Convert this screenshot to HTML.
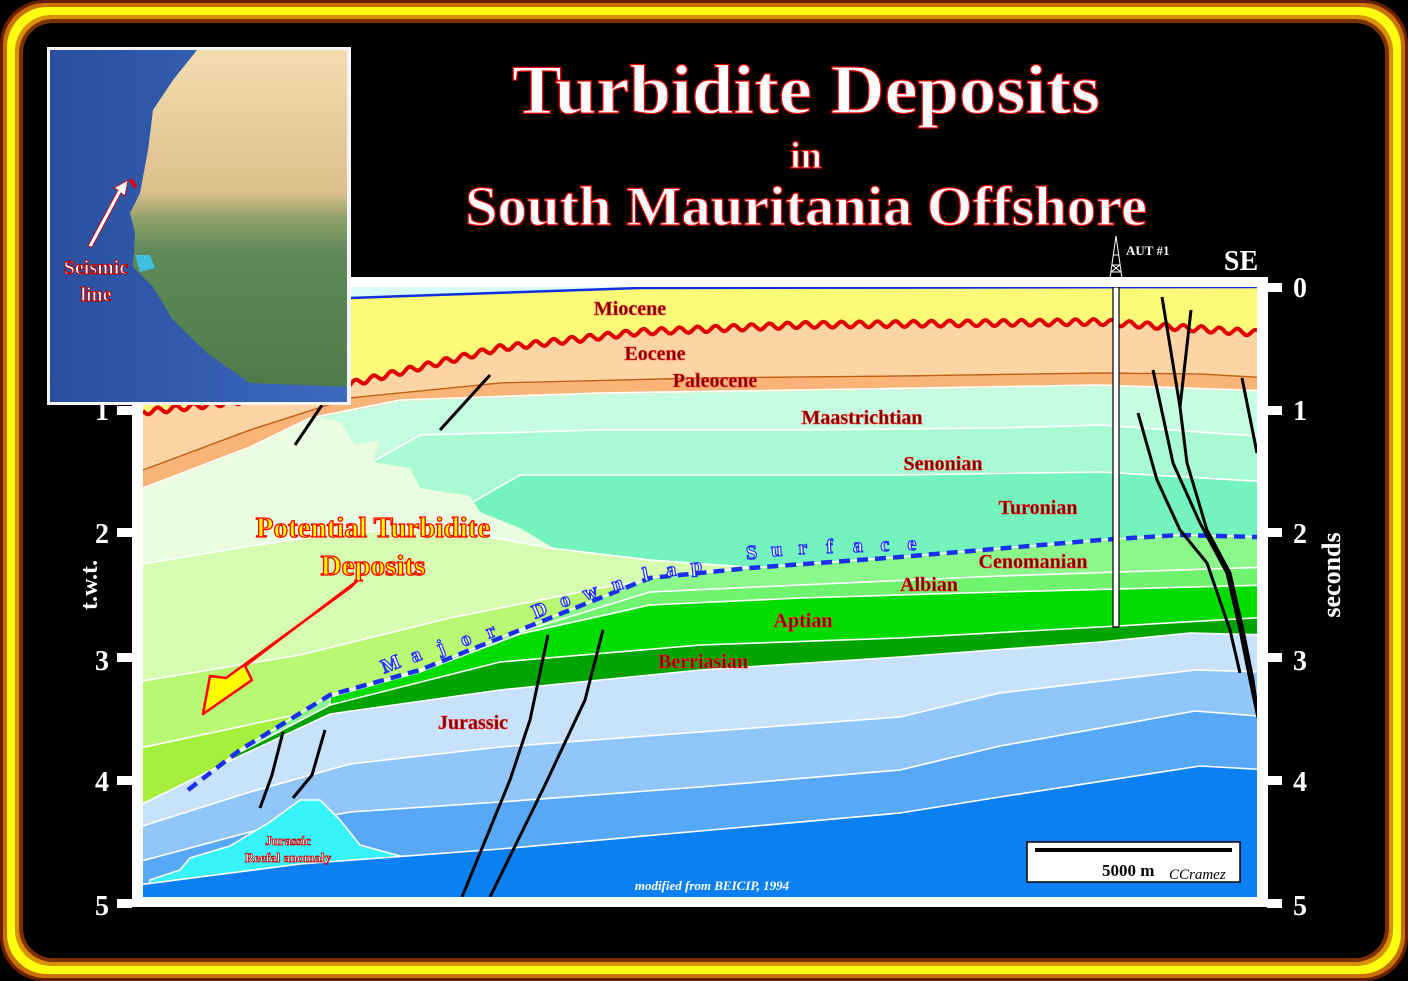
<!DOCTYPE html>
<html><head><meta charset="utf-8"><style>
html,body{margin:0;padding:0;background:#000;}
#w{position:relative;width:1408px;height:981px;overflow:hidden;background:#000;}
.f{position:absolute;}
</style></head><body><div id="w">
<div class="f" style="left:0;top:0;width:1408px;height:981px;border-radius:44px;background:#6a2000;"></div>
<div class="f" style="left:3px;top:3px;width:1402px;height:975px;border-radius:42px;background:#c87000;"></div>
<div class="f" style="left:7px;top:7px;width:1394px;height:967px;border-radius:40px;background:#ffff10;"></div>
<div class="f" style="left:15px;top:15px;width:1378px;height:951px;border-radius:36px;background:#d89000;"></div>
<div class="f" style="left:19px;top:19px;width:1370px;height:943px;border-radius:34px;background:#7a3000;"></div>
<div class="f" style="left:23px;top:23px;width:1362px;height:935px;border-radius:30px;background:#000;"></div>
<svg class="f" style="left:0;top:0" width="1408" height="981" viewBox="0 0 1408 981" font-family="Liberation Serif, serif">
<defs>
<clipPath id="sec"><rect x="143" y="287" width="1114" height="610"/></clipPath>
<linearGradient id="land" x1="0" y1="0" x2="0" y2="1">
<stop offset="0" stop-color="#f2dcae"/><stop offset="0.42" stop-color="#dcc08c"/><stop offset="0.5" stop-color="#8fa06a"/><stop offset="0.6" stop-color="#5f8a58"/><stop offset="1" stop-color="#4f7b4a"/></linearGradient>
<linearGradient id="sea" x1="0" y1="0" x2="1" y2="0"><stop offset="0" stop-color="#2a4f9e"/><stop offset="1" stop-color="#3d6ac0"/></linearGradient>
</defs>
<rect x="132" y="277" width="1136" height="630" fill="#fff"/>
<g fill="#fff">
<rect x="1267" y="283" width="15" height="9"/><rect x="1267" y="406" width="15" height="9"/><rect x="1267" y="528" width="15" height="9"/><rect x="1267" y="653" width="15" height="9"/><rect x="1267" y="776" width="15" height="9"/><rect x="1267" y="899" width="15" height="9"/>
<rect x="117" y="406" width="15" height="9"/><rect x="117" y="528" width="15" height="9"/><rect x="117" y="653" width="15" height="9"/><rect x="117" y="776" width="15" height="9"/><rect x="117" y="899" width="15" height="9"/>
</g>
<g fill="#fff" font-weight="bold" font-size="28" text-anchor="middle">
<text x="1300" y="297">0</text><text x="1300" y="420">1</text><text x="1300" y="543">2</text><text x="1300" y="670">3</text><text x="1300" y="791">4</text><text x="1300" y="915">5</text>
<text x="102" y="420">1</text><text x="102" y="543">2</text><text x="102" y="670">3</text><text x="102" y="791">4</text><text x="102" y="915">5</text>
<text x="1241" y="270" font-size="28">SE</text>
<text transform="translate(97,585) rotate(-90)" font-size="24">t.w.t.</text>
<text transform="translate(1340,575) rotate(-90)" font-size="26">seconds</text>
</g>
<g clip-path="url(#sec)" stroke="#fff" stroke-width="1.6">
<rect x="130" y="280" width="1140" height="630" fill="#c6fce2" stroke="none"/>
<polygon fill="#a8fad2" points="130,600 420,435 600,430 800,430 1000,428 1100,425 1270,437 1270,910 130,910"/>
<polygon fill="#74f4bc" points="130,700 520,475 700,475 900,475 1100,472 1270,482 1270,910 130,910"/>
<polygon fill="#eafde0" points="130,492 310,415 340,422 355,445 380,440 372,462 410,468 420,488 470,496 480,512 520,528 560,552 640,560 143,566 130,566" stroke="none"/>
<polygon fill="#d6fcb2" points="130,566 250,546 350,532 450,530 550,548 650,560 760,568 760,910 130,910"/>
<polygon fill="#b8f872" points="130,683 300,655 450,618 600,588 720,570 720,910 130,910"/>
<polygon fill="#a4f03c" points="130,750 300,714 420,672 520,640 520,910 130,910"/>
<polygon fill="#8cf88c" points="130,820 188,790 240,750 330,695 420,670 520,630 650,578 750,568 900,557 1100,540 1180,535 1270,537 1270,910 130,910"/>
<polygon fill="#70f470" points="520,632 650,592 800,585 1000,576 1270,567 1270,910 520,910"/>
<polygon fill="#00dc00" points="330,697 420,672 520,634 650,605 800,598 1000,592 1270,585 1270,910 330,910"/>
<polygon fill="#00a400" points="130,830 240,752 330,705 500,662 700,645 900,638 1100,627 1270,617 1270,910 130,910"/>
<polygon fill="#c8e2fc" points="130,810 240,756 330,714 500,690 700,670 900,657 1100,642 1190,633 1270,635 1270,910 130,910"/>
<polygon fill="#90c6fa" points="130,830 250,792 350,764 500,747 700,732 900,717 1000,693 1195,670 1270,672 1270,910 130,910"/>
<polygon fill="#58a8f8" points="130,864 250,832 350,812 500,802 700,787 900,770 1000,746 1195,711 1270,717 1270,910 130,910"/>
<polygon fill="#36f4fa" points="150,880 180,870 190,858 230,846 270,822 300,800 320,800 340,820 360,845 400,856 450,858 150,890"/>
<polygon fill="#0a80f2" points="130,886 300,864 500,849 700,831 900,813 1000,797 1200,766 1270,770 1270,910 130,910"/>
<rect x="130" y="280" width="1140" height="20" fill="#d8fcfc" stroke="none"/>
<polygon fill="#fafa78" stroke="none" points="130,300 350,298 640,288 1270,287 1270,392 1100,386 800,391 600,394 400,401 310,419 250,448 130,494"/>
<polygon fill="#fdd4a4" stroke="none" points="130,414 143,412 250,400 350,384 500,348 640,332 800,325 1000,323 1100,322 1270,334 1270,392 1100,386 800,391 600,394 400,401 310,419 250,448 130,494"/>
<polygon fill="#fab478" points="130,475 143,470 250,430 350,398 500,383 700,378 900,376 1100,373 1200,374 1270,378 1270,391 1100,385 800,390 600,393 400,400 310,418 250,447 130,493"/>
<polyline fill="none" stroke="#c06010" stroke-width="1.5" points="130,475 143,470 250,430 350,398 500,383 700,378 900,376 1100,373 1200,374 1270,378"/>
<polyline fill="none" stroke="#1030e0" stroke-width="2.5" points="350,298 640,288 1257,287"/>
<path id="wave" fill="none" stroke="#e00000" stroke-width="4" d="M143,412 L1257,333"/>
<polyline fill="none" stroke="#1a30f0" stroke-width="4.5" stroke-dasharray="11,7" points="188,790 240,750 330,695 420,670 520,630 650,578 750,568 900,557 1100,540 1180,535 1257,537"/>
<g fill="none" stroke="#000" stroke-width="3">
<polyline points="1162,297 1180,407 1187,463 1207,530 1230,573 1243,630 1253,680 1258,715"/>
<polyline points="1191,310 1180,407"/>
<polyline points="1153,370 1173,463 1200,523 1227,573 1240,630 1250,680 1258,718"/>
<polyline points="1138,413 1157,480 1180,530 1207,563 1230,630 1240,673"/>
<polyline points="1242,378 1257,453"/>
<polyline points="490,375 440,430"/>
<polyline points="322,405 295,445"/>
<polyline points="283,732 272,775 260,808"/>
<polyline points="325,730 312,775 293,798"/>
<polyline points="548,635 530,720 510,780 462,897"/>
<polyline points="603,630 585,700 545,785 490,897"/>
</g>
<rect x="1113" y="287" width="6" height="340" fill="#fff" stroke="#000" stroke-width="1.2"/>
</g>
<g stroke="#fff" stroke-width="1" fill="none"><path d="M1116,236 L1110,278 M1116,236 L1122,278 M1112,265 L1120,265 M1113,255 L1119,255 M1111,272 L1121,272 M1112,265 L1121,272 M1120,265 L1111,272"/></g>
<text x="1126" y="255" fill="#fff" font-size="13" font-weight="bold">AUT #1</text>
<g font-weight="bold" font-size="20" fill="#7a0000" stroke="#ff3030" stroke-width="0.6" text-anchor="middle">
<text x="630" y="315">Miocene</text><text x="655" y="360">Eocene</text><text x="715" y="387">Paleocene</text>
<text x="862" y="424">Maastrichtian</text><text x="943" y="470">Senonian</text><text x="1038" y="514">Turonian</text>
<text x="1033" y="568">Cenomanian</text><text x="929" y="591">Albian</text><text x="803" y="627">Aptian</text>
<text x="703" y="668">Berriasian</text><text x="473" y="729">Jurassic</text>
</g>
<g font-weight="bold" font-size="29" fill="#ffff00" stroke="#ff0000" stroke-width="1.3" text-anchor="middle">
<text x="373" y="537">Potential Turbidite</text><text x="373" y="575">Deposits</text>
</g>
<polygon fill="#ffff00" stroke="#ff0000" stroke-width="2.5" stroke-linejoin="round" points="357,581 245,666 252,680 203,714 210,676 226,678 351,587"/>
<g font-weight="bold" font-size="20" fill="#fff" stroke="#2030ff" stroke-width="1.2" text-anchor="middle">
<text transform="translate(393,670) rotate(-22)">M</text><text transform="translate(418,661) rotate(-22)">a</text><text transform="translate(443,653) rotate(-22)">j</text><text transform="translate(468,645) rotate(-22)">o</text><text transform="translate(493,637) rotate(-22)">r</text>
<text transform="translate(542,616) rotate(-22)">D</text><text transform="translate(567,606) rotate(-20)">o</text><text transform="translate(592,598) rotate(-18)">w</text><text transform="translate(619,590) rotate(-16)">n</text><text transform="translate(647,581) rotate(-12)">l</text><text transform="translate(672,576) rotate(-8)">a</text><text transform="translate(697,572) rotate(-6)">p</text>
<text transform="translate(752,559) rotate(-4)">S</text><text transform="translate(777,556) rotate(-3)">u</text><text transform="translate(803,554) rotate(-3)">r</text><text transform="translate(830,553) rotate(-3)">f</text><text transform="translate(858,552) rotate(-2)">a</text><text transform="translate(885,551) rotate(-2)">c</text><text transform="translate(912,550) rotate(-2)">e</text>
</g>
<g font-size="13" fill="#fff" stroke="#d00000" stroke-width="0.8" text-anchor="middle" font-weight="bold">
<text x="288" y="845">Jurassic</text><text x="288" y="862">Reefal anomaly</text>
</g>
<text x="712" y="890" fill="#fff" font-size="13" font-style="italic" font-weight="bold" text-anchor="middle">modified from BEICIP, 1994</text>
<rect x="1027" y="842" width="213" height="40" fill="#fff" stroke="#000" stroke-width="1.5"/>
<rect x="1035" y="848" width="197" height="4" fill="#000"/>
<text x="1102" y="876" font-size="17" font-weight="bold">5000 m</text>
<text x="1169" y="879" font-size="15" font-style="italic">CCramez</text>
<g font-weight="bold" fill="#fff" stroke="#ee0000" stroke-width="1.2" text-anchor="middle">
<text x="806" y="113" font-size="70" textLength="588" lengthAdjust="spacingAndGlyphs">Turbidite Deposits</text>
<text x="806" y="168" font-size="38">in</text>
<text x="806" y="225" font-size="56" textLength="682" lengthAdjust="spacingAndGlyphs">South Mauritania Offshore</text>
</g>
<rect x="47" y="47" width="304" height="358" fill="#f4f4f8"/>
<rect x="50" y="50" width="297" height="352" fill="url(#sea)"/>
<polygon fill="url(#land)" points="197,50 173,80 153,110 148,150 140,193 130,213 135,233 133,267 153,287 173,320 207,353 250,383 347,387 347,50"/>
<polygon fill="#40c0e0" points="135,255 150,255 155,268 140,272"/>
<polygon fill="#fff" stroke="#c00" stroke-width="0.8" points="88,246 118,190 114,188 128,180 125,196 121,193 92,247"/>
<rect x="131" y="179" width="4" height="9" fill="#e00000" transform="rotate(-30 133 183)"/>
<g font-weight="bold" font-size="20" fill="#fff" stroke="#c00000" stroke-width="1" text-anchor="middle">
<text x="96" y="274">Seismic</text><text x="96" y="301">line</text>
</g>
</svg>
<script>
(function(){var p=[[143,412],[250,400],[350,384],[500,348],[640,332],[800,325],[1000,323],[1100,322],[1257,333]];
function y(x){for(var i=0;i<p.length-1;i++){if(x<=p[i+1][0]){var t=(x-p[i][0])/(p[i+1][0]-p[i][0]);return p[i][1]+t*(p[i+1][1]-p[i][1]);}}return p[p.length-1][1];}
var d='';for(var x=143;x<=1257;x+=2){d+=(x==143?'M':'L')+x+','+(y(x)+3*Math.sin(x/18*2*Math.PI)).toFixed(1);}
document.getElementById('wave').setAttribute('d',d);})();
</script>
</div></body></html>
